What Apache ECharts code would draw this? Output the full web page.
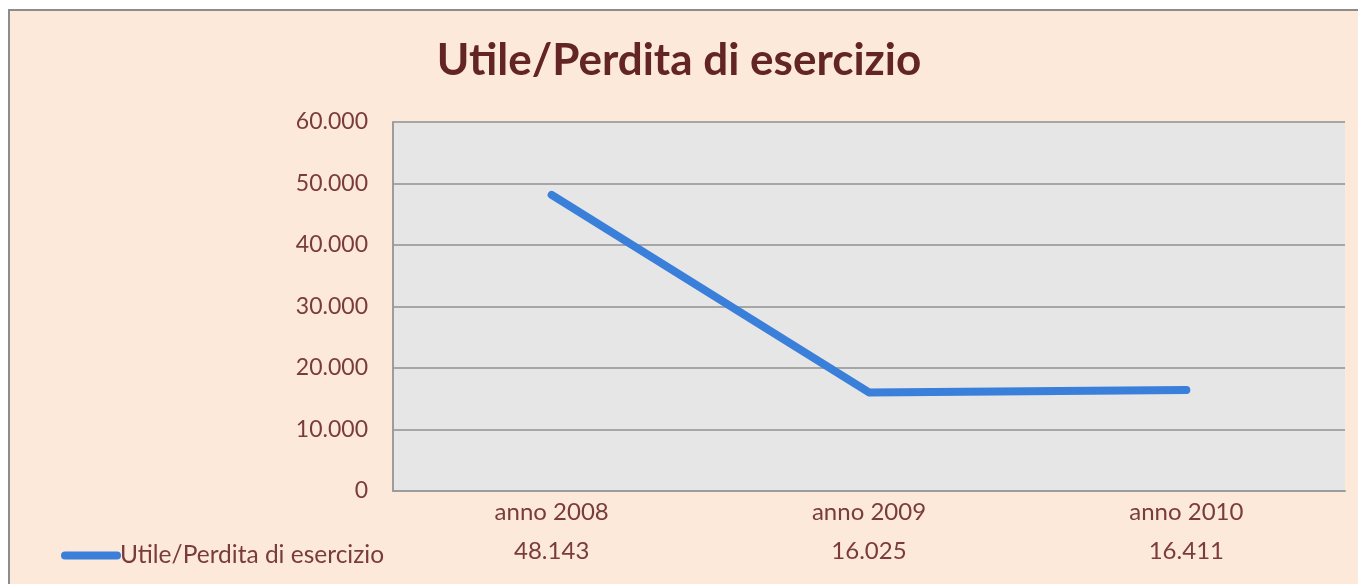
<!DOCTYPE html>
<html>
<head>
<meta charset="utf-8">
<script src="https://cdn.jsdelivr.net/npm/echarts@6/dist/echarts.min.js"></script>
<style>
html,body{margin:0;padding:0;background:#fff;}
#c{width:1358px;height:584px;}
</style>
</head>
<body>
<div id="c"></div>
<script>
const title = 'Utile/Perdita di esercizio';
const categories = ['anno 2008', 'anno 2009', 'anno 2010'];
const seriesName = 'Utile/Perdita di esercizio';
const values = [48143, 16025, 16411];
const yMin = 0, yMax = 60000, yStep = 10000;

function fmt(v) {
  const s = String(Math.round(v));
  return s.replace(/\B(?=(\d{3})+(?!\d))/g, '.');
}

const labelColor = '#7A3B3B';
const font = 'Lato';

const chart = echarts.init(document.getElementById('c'));
chart.setOption({
  backgroundColor: '#ffffff',
  animation: false,
  graphic: [{
    type: 'rect', z: -10,
    shape: { x: 9, y: 10, width: 1400, height: 600 },
    style: { fill: '#FDE9DA', stroke: '#8C8C8C', lineWidth: 2 }
  }],
  title: {
    text: title, left: 'center', top: 34,
    textStyle: { fontFamily: font, fontWeight: 'bold', fontSize: 44, color: '#632523' }
  },
  legend: {
    left: 56, top: 538,
    icon: 'path://M4,0 H56 A4,4 0 0 1 56,8 H4 A4,4 0 0 1 4,0 Z',
    itemWidth: 60, itemHeight: 8,
    textStyle: { fontFamily: font, fontSize: 24.5, color: labelColor, padding: [0,0,0,-6] },
    data: [seriesName]
  },
  grid: { left: 393, top: 122, right: 13, bottom: 93, show: true, backgroundColor: '#E6E6E6', borderWidth: 0 },
  xAxis: [{
    type: 'category', data: categories, boundaryGap: true,
    axisLine: { lineStyle: { color: '#9C9C9C', width: 2 } },
    axisTick: { show: false },
    axisLabel: { fontFamily: font, fontSize: 24, color: labelColor, margin: 9 }
  }, {
    type: 'category', data: values.map(fmt), boundaryGap: true, position: 'bottom', offset: 39,
    axisLine: { show: false }, axisTick: { show: false },
    axisLabel: { fontFamily: font, fontSize: 24, color: labelColor, margin: 9 }
  }],
  yAxis: {
    type: 'value', min: yMin, max: yMax, interval: yStep,
    axisLine: { show: true, lineStyle: { color: '#9C9C9C', width: 2 } },
    axisTick: { show: false },
    splitLine: { lineStyle: { color: '#A6A6A6', width: 2 } },
    axisLabel: { fontFamily: font, fontSize: 23, color: labelColor, margin: 25, formatter: fmt }
  },
  series: [{
    name: seriesName, type: 'line', data: values, xAxisIndex: 0,
    showSymbol: false, symbol: 'none',
    lineStyle: { color: '#3A7FDA', width: 8, cap: 'round', join: 'round' },
    itemStyle: { color: '#3A7FDA' }
  }]
});
</script>
</body>
</html>
